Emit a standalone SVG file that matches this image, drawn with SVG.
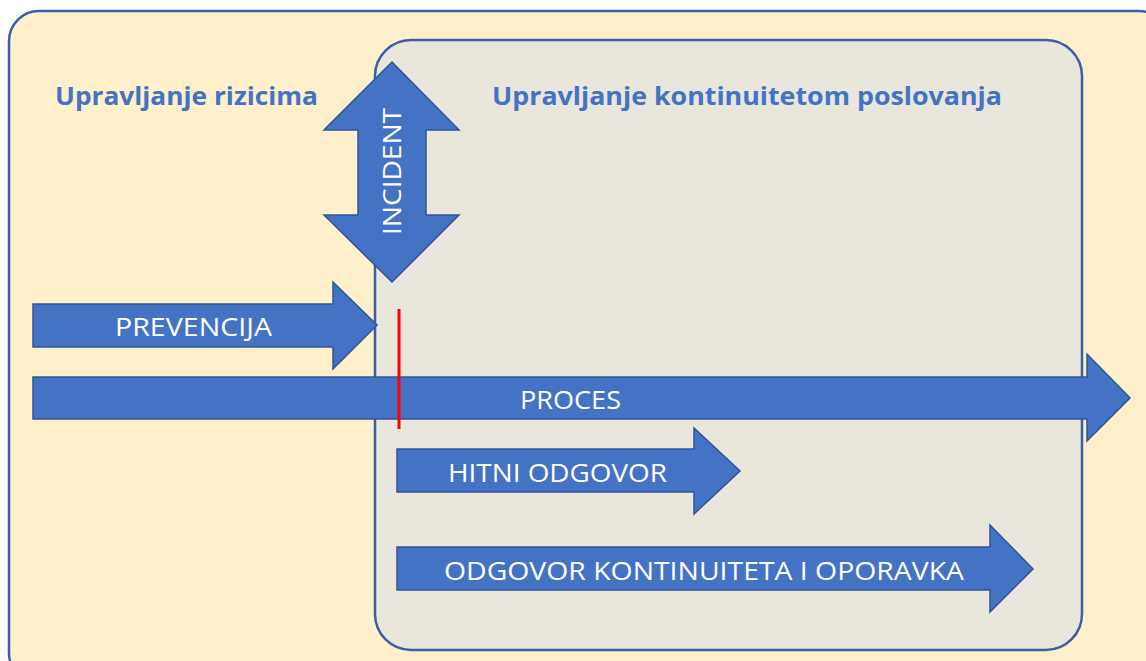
<svg xmlns="http://www.w3.org/2000/svg" width="1146" height="661" viewBox="0 0 1146 661">
<style>
.arrow{fill:#4472c4;stroke:#2f5597;stroke-width:1.5;stroke-linejoin:miter}
.lbl{font-family:"Open Sans","Noto Sans",sans-serif;font-size:25px;fill:#ffffff}
.title{font-family:"Open Sans","Noto Sans",sans-serif;font-size:25px;font-weight:bold;fill:#4472c4}
</style>
<rect width="1146" height="661" fill="#ffffff"/>
<g id="risk-area">
<rect x="9" y="11" width="1160" height="672" rx="30" fill="#fef0ca" stroke="#3a5ea8" stroke-width="2.5"/>
<text class="title" x="55" y="105" textLength="263" lengthAdjust="spacingAndGlyphs">Upravljanje rizicima</text>
</g>
<g id="continuity-area">
<rect x="375" y="40" width="707" height="610" rx="36" fill="#e9e6dc" stroke="#3a5ea8" stroke-width="2.5"/>
<text class="title" x="492" y="105" textLength="510" lengthAdjust="spacingAndGlyphs">Upravljanje kontinuitetom poslovanja</text>
</g>
<g id="connectors">
<g id="incident">
<polygon class="arrow" points="392,62 459,130 426,130 426,215 459,215 392,282 324,215 358,215 358,130 324,130"/>
<text class="lbl" transform="translate(401,235) rotate(-90)" textLength="127" lengthAdjust="spacingAndGlyphs">INCIDENT</text>
</g>
<g id="prevencija">
<polygon class="arrow" points="33,304 333,304 333,282 377,325 333,369 333,347 33,347"/>
<text class="lbl" x="115" y="336" textLength="157" lengthAdjust="spacingAndGlyphs">PREVENCIJA</text>
</g>
<g id="proces">
<polygon class="arrow" points="33,377 1087,377 1087,354 1130,398 1087,441 1087,419 33,419"/>
<text class="lbl" x="520" y="409" textLength="101" lengthAdjust="spacingAndGlyphs">PROCES</text>
</g>
<line id="incident-marker" x1="399" y1="309" x2="399" y2="429" stroke="#ff0000" stroke-width="3"/>
<g id="hitni-odgovor">
<polygon class="arrow" points="397,449 694,449 694,428 740,471 694,514 694,492 397,492"/>
<text class="lbl" x="448" y="482" textLength="219" lengthAdjust="spacingAndGlyphs">HITNI ODGOVOR</text>
</g>
<g id="odgovor-kontinuiteta">
<polygon class="arrow" points="397,547 990,547 990,525 1033,569 990,612 990,590 397,590"/>
<text class="lbl" x="444" y="580" textLength="520" lengthAdjust="spacingAndGlyphs">ODGOVOR KONTINUITETA I OPORAVKA</text>
</g>
</g>
</svg>
